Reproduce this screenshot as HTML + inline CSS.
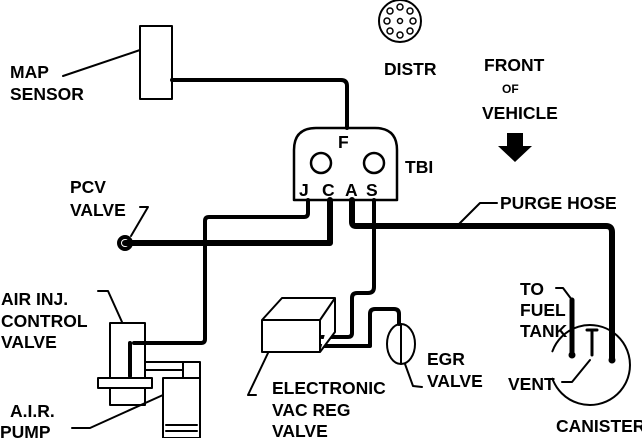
<!DOCTYPE html>
<html><head><style>
html,body{margin:0;padding:0;background:#fff;}
svg{display:block;}
text{font-family:"Liberation Sans",sans-serif;font-weight:bold;font-size:17.5px;fill:#000;}
</style></head><body>
<svg width="642" height="438" viewBox="0 0 642 438" xmlns="http://www.w3.org/2000/svg">
<g fill="none" stroke="#000" stroke-linejoin="round" stroke-linecap="round">
<rect x="140" y="26" width="32" height="73" stroke-width="2"/>
<path d="M63 76 L140 50" stroke-width="2"/>
<path d="M172 80 H341 Q347 80 347 86 V128" stroke-width="4"/>
<circle cx="400" cy="21" r="21" stroke-width="2"/>
<g stroke-width="1.5">
<circle cx="400" cy="21" r="2.5"/>
<circle cx="400" cy="7" r="3"/><circle cx="410" cy="11" r="3"/><circle cx="413" cy="21" r="3"/>
<circle cx="410" cy="31" r="3"/><circle cx="400" cy="35" r="3"/><circle cx="390" cy="31" r="3"/>
<circle cx="387" cy="21" r="3"/><circle cx="390" cy="11" r="3"/>
</g>
<path d="M294 200 V150 Q294 128 316 128 H375 Q397 128 397 150 V200 Z" stroke-width="2.5"/>
<circle cx="321" cy="163" r="10" stroke-width="2.5"/>
<circle cx="374" cy="163" r="10" stroke-width="2.5"/>
<path d="M308 200 V213 Q308 217 304 217 H209 Q205 217 205 221 V339 Q205 343 201 343 H134 Q130 343 130 347 V376" stroke-width="4"/>
<path d="M330 200 V243 H125" stroke-width="6"/>
<circle cx="125" cy="243" r="6" stroke-width="4"/>
<path d="M131 236 L148 207 L140 207" stroke-width="2"/>
<path d="M352 200 V222 Q352 226 356 226 H606 Q612 226 612 232 V360" stroke-width="6"/>
<circle cx="612" cy="360" r="3" fill="#000"/>
<path d="M458 225 L480 203 L497 203" stroke-width="2"/>
<path d="M374 200 V287 Q374 293 368 293 H357 Q352 293 352 298 V333 Q352 337 348 337 H322" stroke-width="4"/>
<path d="M322 346 H370 V314 Q370 309 375 309 H394 Q399 309 399 314 V324" stroke-width="4"/>
<path d="M262 320 H320 V352 H262 Z M262 320 L282 298 H335 L320 320 M335 298 V332 L320 352" stroke-width="2" fill="#fff"/>
<path d="M268 353 L248 395 L256 395" stroke-width="2"/>
<ellipse cx="401" cy="344" rx="14" ry="20" stroke-width="2"/>
<path d="M401 324 V364" stroke-width="2"/>
<path d="M405 364 L413 386 L422 387" stroke-width="2"/>
<rect x="110" y="323" width="35" height="57" stroke-width="2" fill="#fff"/>
<rect x="98" y="378" width="54" height="10" stroke-width="2" fill="#fff"/>
<rect x="110" y="388" width="35" height="17" stroke-width="2" fill="#fff"/>
<path d="M130 343 V376" stroke-width="4"/>
<path d="M134 343 H201" stroke-width="4"/>
<path d="M145 362 H185 M145 370 H185" stroke-width="2"/>
<rect x="163" y="378" width="37" height="60" stroke-width="2" fill="#fff"/>
<rect x="183" y="362" width="17" height="16" stroke-width="2" fill="#fff"/>
<path d="M166 425 H197 M166 431 H197" stroke-width="2"/>
<path d="M122 322 L108 291 L98 291" stroke-width="2"/>
<path d="M163 395 L90 428 L72 428" stroke-width="2"/>
<!-- canister -->
<path d="M552.4 351.3 A40 40 0 1 1 552.4 378.7" stroke-width="2"/>
<path d="M572 300 L563 288 L556 288" stroke-width="2"/>
<path d="M572 300 V355" stroke-width="5"/>
<circle cx="572" cy="355" r="3" fill="#000"/>
<path d="M592 330 V355 M587 330 H597" stroke-width="3"/>
<path d="M590 360 L572 382 L562 382" stroke-width="2"/>
</g>
<path d="M507 133 H523 V146 H532 L515 162 L498 146 H507 Z" fill="#000"/>
<text x="10" y="78">MAP</text>
<text x="10" y="100">SENSOR</text>
<text x="384" y="75">DISTR</text>
<text x="484" y="71">FRONT</text>
<text x="502" y="93" style="font-size:12px">OF</text>
<text x="482" y="119">VEHICLE</text>
<text x="338" y="148">F</text>
<text x="405" y="173">TBI</text>
<text x="299" y="196">J</text>
<text x="322" y="196">C</text>
<text x="345" y="196">A</text>
<text x="366" y="196">S</text>
<text x="70" y="193">PCV</text>
<text x="70" y="216">VALVE</text>
<text x="500" y="209">PURGE HOSE</text>
<text x="1" y="305">AIR INJ.</text>
<text x="1" y="327">CONTROL</text>
<text x="1" y="348">VALVE</text>
<text x="10" y="417">A.I.R.</text>
<text x="0" y="438">PUMP</text>
<text x="272" y="394">ELECTRONIC</text>
<text x="272" y="416">VAC REG</text>
<text x="272" y="437">VALVE</text>
<text x="427" y="365">EGR</text>
<text x="427" y="387">VALVE</text>
<text x="520" y="295">TO</text>
<text x="520" y="316">FUEL</text>
<text x="520" y="337">TANK</text>
<text x="508" y="390">VENT</text>
<text x="556" y="432">CANISTER</text>
</svg>
</body></html>
